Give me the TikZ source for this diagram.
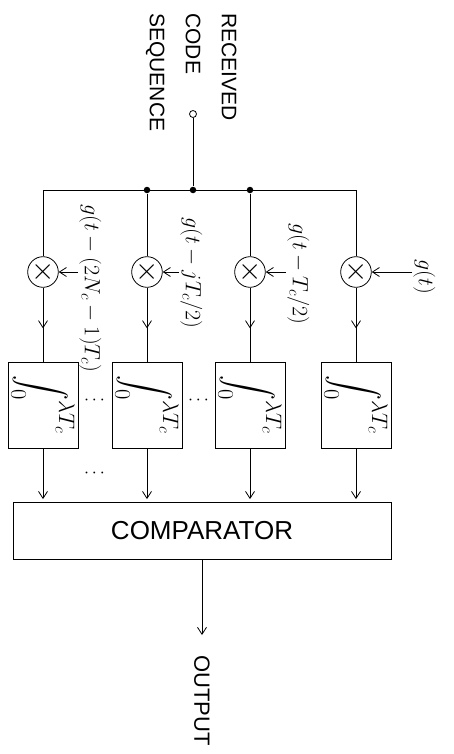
\RequirePackage{fix-cm}
\documentclass[tikz,border=0pt]{standalone}
\usepackage{amsmath}
\usepackage{fontspec}
\setmainfont{Liberation Sans}
\usepackage{tikz}
\usetikzlibrary{arrows.meta}
\usetikzlibrary{decorations.markings}

\begin{document}
\begin{tikzpicture}[x=1pt,y=-1pt,line width=0.8pt]
\useasboundingbox (0,0) rectangle (454,754);
\begin{scope}[>={Straight Barb[length=7pt,width=9pt]},
              mult/.style={circle,draw,minimum size=29pt,inner sep=0pt,font=\fontsize{30}{30}\selectfont},
              intbox/.style={draw,rotate=-90,minimum width=86pt,minimum height=70pt,inner sep=0pt,font=\fontsize{32}{32}\selectfont},
              delay/.style={rotate=-90,anchor=south west,inner sep=1pt,font=\fontsize{22}{22}\selectfont},
              jdot/.style={circle,fill,inner sep=0pt,minimum size=6.5pt},
              midarrow/.style={postaction={decorate},decoration={markings,mark=at position 0.55 with {\arrow{>}}}}]
    % input
    \node [rotate=-90,anchor=north west,align=left,inner sep=0pt,font=\fontsize{21}{36}\selectfont] (title) at (237,13) {RECEIVED\\CODE\\SEQUENCE};
    \node [circle,draw,inner sep=0pt,minimum size=7pt] (in) at (193,114) {};
    % bus
    \coordinate (c1) at (43,190);
    \coordinate (c4) at (356,190);
    \node [jdot] (j2) at (147,190) {};
    \node [jdot] (j0) at (193,190) {};
    \node [jdot] (j3) at (250,190) {};
    \draw (c1) -- (c4);
    \draw (in) -- (j0);
    % multipliers
    \node [mult] (m1) at (43,272) {$\times$};
    \node [mult] (m2) at (147,272) {$\times$};
    \node [mult] (m3) at (250,272) {$\times$};
    \node [mult] (m4) at (356,272) {$\times$};
    \draw (c1) -- (m1);
    \draw (j2) -- (m2);
    \draw (j3) -- (m3);
    \draw (c4) -- (m4);
    % reference signals
    \node [delay] (l1) at (78,203) {$g(t-(2N_c-1)T_c)$};
    \node [delay] (l2) at (179,216) {$g(t-jT_c/2)$};
    \node [delay] (l3) at (286,222) {$g(t-T_c/2)$};
    \node [delay] (gt) at (412,258) {$g(t)$};
    \draw [->] (l1.south west |- m1) -- (m1);
    \draw [->] (l2.south west |- m2) -- (m2);
    \draw [->] (l3.south west |- m3) -- (m3);
    \draw [->] (gt.south west |- m4) -- (m4);
    % integrators
    \node [intbox] (i1) at (43,405) {$\displaystyle\int_0^{\lambda T_c}$};
    \node [intbox] (i2) at (147,405) {$\displaystyle\int_0^{\lambda T_c}$};
    \node [intbox] (i3) at (250,405) {$\displaystyle\int_0^{\lambda T_c}$};
    \node [intbox] (i4) at (356,405) {$\displaystyle\int_0^{\lambda T_c}$};
    \draw [midarrow] (m1) -- (i1);
    \draw [midarrow] (m2) -- (i2);
    \draw [midarrow] (m3) -- (i3);
    \draw [midarrow] (m4) -- (i4);
    \node [font=\fontsize{18}{18}\selectfont] (d1) at (96,400) {$\cdots$};
    \node [font=\fontsize{18}{18}\selectfont] (d2) at (200,400) {$\cdots$};
    % comparator
    \node [draw,minimum width=378pt,minimum height=57pt,font=\fontsize{26}{26}\selectfont] (comp) at (202,531) {COMPARATOR};
    \node [font=\fontsize{18}{18}\selectfont] (d3) at (96,473) {$\cdots$};
    \draw [->,shorten >=3pt] (i1) -- (i1 |- comp.north);
    \draw [->,shorten >=3pt] (i2) -- (i2 |- comp.north);
    \draw [->,shorten >=3pt] (i3) -- (i3 |- comp.north);
    \draw [->,shorten >=3pt] (i4) -- (i4 |- comp.north);
    % output
    \node [rotate=-90,anchor=west,inner sep=0pt,font=\fontsize{22}{22}\selectfont] (out) at (202,655) {OUTPUT};
    \draw [->,shorten >=20pt] (comp) -- (out.west);
\end{scope}
\end{tikzpicture}
\end{document}
